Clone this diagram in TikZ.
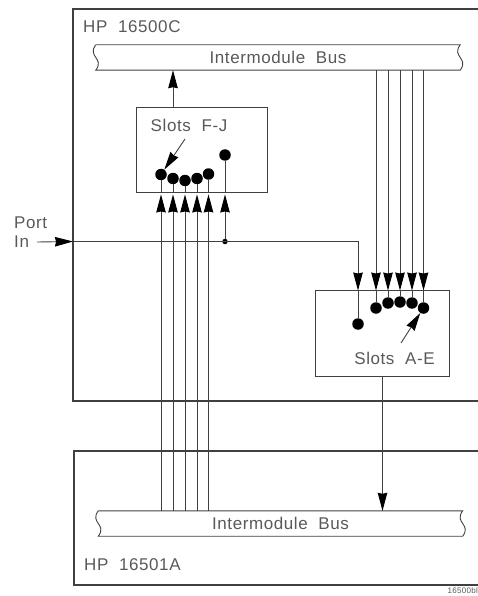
\documentclass[tikz,border=0pt]{standalone}
\usepackage{fontspec}
\setmainfont[LetterSpace=3.5,WordSpace=2]{Liberation Sans}
\usetikzlibrary{arrows.meta}
\begin{document}
\begin{tikzpicture}[
  x=1pt, y=-1pt,
  font=\fontsize{17}{20}\selectfont,
  wire/.style={black!75, line width=0.9pt},
  frm/.style={black!75, line width=1.2pt},
  arr/.style={wire, -{Stealth[length=18pt, width=9.5pt, inset=1pt, black]}},
  lbl/.style={text=black!65, inner sep=0pt},
  slt/.style={draw=black!75, line width=0.9pt, rectangle, inner sep=0pt},
  bus/.style={rectangle, inner sep=0pt, minimum width=364pt, minimum height=25pt, text=black!65},
  pin/.style={circle, fill=black, inner sep=0pt, minimum size=11.5pt},
  jnc/.style={circle, fill=black, inner sep=0pt, minimum size=5.5pt}
]
  \useasboundingbox (0,0) rectangle (478,596);

  %% the two cabinets, cut off by the right edge
  \draw[frm] (478,9) -- (73,9) -- (73,401) -- (478,401);
  \draw[frm] (478,451) -- (74,451) -- (74,585) -- (478,585);
  \node[lbl, anchor=west] (hpc) at (83,27) {HP 16500C};
  \node[lbl, anchor=west] (hpa) at (84,565) {HP 16501A};

  \node[bus] (tbus) at (278,57.5) {Intermodule Bus};
  \node[bus] (bbus) at (280.5,523.5) {Intermodule Bus};
  \draw[wire] (tbus.north west) -- (tbus.north east)
    .. controls ([xshift=-9pt,yshift=-12pt]tbus.north east) and ([xshift=9pt,yshift=12pt]tbus.south east) .. (tbus.south east)
    -- (tbus.south west)
    .. controls ([xshift=9pt,yshift=12pt]tbus.south west) and ([xshift=-9pt,yshift=-12pt]tbus.north west) .. (tbus.north west);
  \draw[wire] (bbus.north west) -- (bbus.north east)
    .. controls ([xshift=-9pt,yshift=-12pt]bbus.north east) and ([xshift=9pt,yshift=12pt]bbus.south east) .. (bbus.south east)
    -- (bbus.south west)
    .. controls ([xshift=9pt,yshift=12pt]bbus.south west) and ([xshift=-9pt,yshift=-12pt]bbus.north west) .. (bbus.north west);

  \node[slt, minimum width=130.5pt, minimum height=85.5pt] (fj) at (201.75,149.75) {};
  \node[slt, minimum width=134pt, minimum height=86pt] (ae) at (382.5,333) {};
  \node[lbl] (fjl) at (189,125) {Slots F-J};
  \node[lbl] (ael) at (394.5,358) {Slots A-E};

  \node[pin] (ff) at (161,174.5) {};
  \node[pin] (fg) at (173,178.5) {};
  \node[pin] (fh) at (185,180.5) {};
  \node[pin] (fi) at (197,178.5) {};
  \node[pin] (fj1) at (208.5,174) {};
  \node[pin] (fx) at (225,155) {};

  \node[pin] (ax) at (358,324) {};
  \node[pin] (aa) at (376,308) {};
  \node[pin] (ab) at (388,303) {};
  \node[pin] (ac) at (400,302) {};
  \node[pin] (ad) at (412,303) {};
  \node[pin] (ax1) at (423.5,308) {};

  \node[lbl, anchor=west] (port) at (14,223) {Port};
  \node[lbl, anchor=west] (inp) at (14,242) {In};
  \coordinate (entry) at (73,241.5);
  \node[jnc] (jn) at (225,241.5) {};
  \coordinate (fjarm) at (185,139);
  \coordinate (aearm) at (401,343);

  %% port in -> frame, then along to slots A-E
  \draw[arr] (inp.east) ++(8pt,0) -- (entry);
  \draw[arr] (entry) -| ([yshift=-1pt]ax |- ae.north);
  \draw[wire] (ax |- ae.north) -- (ax);

  %% junction -> spare pin of slots F-J
  \draw[arr] (jn) -- ([yshift=-1.5pt]fx |- fj.south);
  \draw[wire] (fx |- fj.south) -- (fx);

  %% bottom bus -> slots F-J
  \draw[arr] (ff |- bbus.north) -- ([yshift=-1.5pt]ff |- fj.south);
  \draw[arr] (fg |- bbus.north) -- ([yshift=-1.5pt]fg |- fj.south);
  \draw[arr] (fh |- bbus.north) -- ([yshift=-1.5pt]fh |- fj.south);
  \draw[arr] (fi |- bbus.north) -- ([yshift=-1.5pt]fi |- fj.south);
  \draw[arr] (fj1 |- bbus.north) -- ([yshift=-1.5pt]fj1 |- fj.south);
  \draw[wire] (ff |- fj.south) -- (ff);
  \draw[wire] (fg |- fj.south) -- (fg);
  \draw[wire] (fh |- fj.south) -- (fh);
  \draw[wire] (fi |- fj.south) -- (fi);
  \draw[wire] (fj1 |- fj.south) -- (fj1);

  %% top bus -> slots A-E
  \draw[arr] (aa |- tbus.south) -- ([yshift=-1pt]aa |- ae.north);
  \draw[arr] (ab |- tbus.south) -- ([yshift=-1pt]ab |- ae.north);
  \draw[arr] (ac |- tbus.south) -- ([yshift=-1pt]ac |- ae.north);
  \draw[arr] (ad |- tbus.south) -- ([yshift=-1pt]ad |- ae.north);
  \draw[arr] (ax1 |- tbus.south) -- ([yshift=-1pt]ax1 |- ae.north);
  \draw[wire] (aa |- ae.north) -- (aa);
  \draw[wire] (ab |- ae.north) -- (ab);
  \draw[wire] (ac |- ae.north) -- (ac);
  \draw[wire] (ad |- ae.north) -- (ad);
  \draw[wire] (ax1 |- ae.north) -- (ax1);

  %% slot outputs -> buses
  \draw[arr] ([xshift=-28.75pt]fj.north) -- ([xshift=-28.75pt]fj.north |- tbus.south);
  \draw[arr] (ae.south) -- (ae.south |- bbus.north);

  %% switch arms
  \draw[arr] (fjarm) -- (ff);
  \draw[arr] (aearm) -- (ax1);

  \node[font=\fontsize{8}{9}\selectfont, lbl, anchor=east] (fig) at (478,591) {16500bl};
\end{tikzpicture}
\end{document}
